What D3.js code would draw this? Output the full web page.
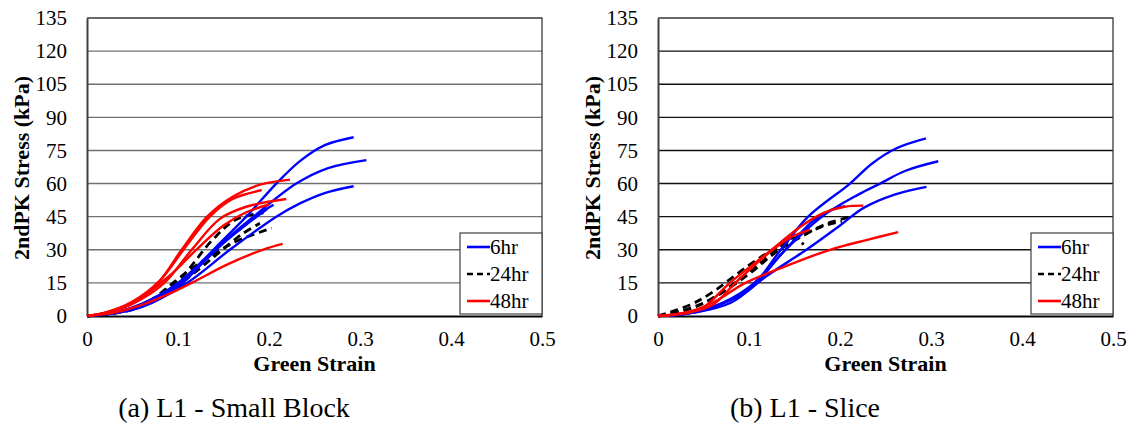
<!DOCTYPE html>
<html>
<head>
<meta charset="utf-8">
<script src="https://cdn.jsdelivr.net/npm/d3@7"></script>
<style>
  html, body { margin: 0; padding: 0; background: #fff; }
  svg { display: block; }
</style>
</head>
<body>
<svg id="chart" width="1133" height="433"></svg>
<script>
// Axis ticks
const strainTicks = [0, 0.1, 0.2, 0.3, 0.4, 0.5];
const stressTicks = [0, 15, 30, 45, 60, 75, 90, 105, 120, 135];

// Legend
const groups = ["6hr", "24hr", "48hr"];
const groupColors = ["#0000ff", "#000000", "#ff0000"];

// (a) L1 - Small Block : [Green strain, 2nd PK stress (kPa)]
const block6hr = [
  [[0,0],[0.03,1.5],[0.06,5],[0.1,13],[0.139,30],[0.175,45],[0.208,60],[0.235,70.5],[0.262,77.5],[0.293,81]],
  [[0,0],[0.03,1.5],[0.06,5],[0.1,14],[0.14,30],[0.183,45],[0.23,60],[0.265,67],[0.307,70.6]],
  [[0,0],[0.03,1.2],[0.06,4],[0.11,15],[0.157,30],[0.208,45],[0.234,51],[0.262,55.8],[0.293,58.8]],
  [[0,0],[0.03,1.5],[0.06,5.5],[0.1,15],[0.14,30],[0.17,40],[0.19,46.5],[0.205,50.4]],
  [[0,0],[0.03,1.5],[0.06,5],[0.1,14],[0.15,33],[0.18,43],[0.198,48.5]]
];
const block24hr = [
  [[0,0],[0.03,1.5],[0.06,5],[0.1,16],[0.139,35],[0.165,44],[0.194,46.7]],
  [[0,0],[0.03,1.2],[0.06,4.5],[0.11,20],[0.139,28],[0.165,34],[0.203,39.8]],
  [[0,0],[0.03,1.3],[0.06,4.8],[0.1,14],[0.14,27],[0.17,37],[0.19,42]]
];
const block48hr = [
  [[0,0],[0.02,1.5],[0.05,6],[0.078,15],[0.104,30],[0.132,45],[0.16,54],[0.19,59.5],[0.223,61.8]],
  [[0,0],[0.02,1.5],[0.05,6.5],[0.08,16],[0.106,30],[0.135,45],[0.16,53],[0.192,57]],
  [[0,0],[0.02,1.3],[0.05,5.5],[0.085,15],[0.115,30],[0.146,44],[0.175,49.5],[0.219,53]],
  [[0,0],[0.02,1.4],[0.05,6],[0.09,18],[0.12,30],[0.15,41],[0.175,47],[0.2,50.5]],
  [[0,0],[0.03,1.5],[0.06,5],[0.09,10],[0.115,15],[0.155,23.5],[0.193,30],[0.215,32.7]]
];

// (b) L1 - Slice
const slice6hr = [
  [[0,0],[0.03,1],[0.06,4],[0.1,12],[0.135,30],[0.165,45],[0.211,60],[0.235,69],[0.262,76],[0.2945,80.5]],
  [[0,0],[0.03,1],[0.06,4],[0.1,12],[0.14,30],[0.18,45],[0.22,55],[0.244,60],[0.272,65.8],[0.308,70.1]],
  [[0,0],[0.04,1.5],[0.08,6],[0.119,18],[0.163,30],[0.2,41],[0.226,49],[0.26,55],[0.295,58.5]],
  [[0,0],[0.03,1],[0.06,4],[0.1,13],[0.14,30],[0.17,43],[0.19,48],[0.2055,49.7]]
];
const slice24hr = [
  [[0,0],[0.035,5],[0.057,10],[0.1,23],[0.13,31],[0.167,38.3],[0.19,42.5],[0.2146,45.1]],
  [[0,0],[0.035,3.5],[0.06,8],[0.1,19],[0.13,29],[0.16,36.5],[0.18,40.5],[0.202,42.9]],
  [[0,0],[0.03,2.5],[0.06,8],[0.1,20],[0.13,30],[0.145,35],[0.152,35.2],[0.16,32.3]]
];
const slice48hr = [
  [[0,0],[0.03,1.5],[0.05,4],[0.079,15],[0.125,30],[0.155,40],[0.182,46.7],[0.205,49.5],[0.2256,50]],
  [[0,0],[0.03,1.5],[0.06,6],[0.096,15],[0.14,22.5],[0.189,30],[0.23,34.5],[0.264,38]],
  [[0,0],[0.03,1.2],[0.06,5],[0.085,15],[0.12,28],[0.145,35.5],[0.167,39]]
];

const FONT = "'Liberation Serif'";
const svg = d3.select("#chart");
const plotW = 455, plotH = 298;

function drawPanel(left, top, sets, caption, gridColor) {
  const g = svg.append("g").attr("transform", `translate(${left},${top})`);
  const x = d3.scaleLinear().domain([0, 0.5]).range([0, plotW]);
  const y = d3.scaleLinear().domain([0, 135]).range([plotH, 0]);

  // horizontal gridlines
  g.append("g").selectAll("line")
    .data(stressTicks.filter(d => d > 0 && d < 135))
    .join("line")
    .attr("x1", 0).attr("x2", plotW)
    .attr("y1", d => y(d)).attr("y2", d => y(d))
    .attr("stroke", gridColor).attr("stroke-width", 1.4);

  // plot frame (top and right)
  g.append("path")
    .attr("d", `M0,0H${plotW}V${plotH}`)
    .attr("fill", "none").attr("stroke", "#3a3a3a").attr("stroke-width", 1.3);

  // y axis
  const ya = g.append("g")
    .call(d3.axisLeft(y).tickValues(stressTicks).tickSize(0).tickPadding(20));
  ya.select(".domain").attr("stroke", "#404040").attr("stroke-width", 2);
  ya.selectAll("text").style("font-family", FONT).style("font-size", "21px").attr("fill", "#000");

  // x axis
  const xa = g.append("g").attr("transform", `translate(0,${plotH})`)
    .call(d3.axisBottom(x).tickValues(strainTicks).tickSize(0).tickPadding(15)
      .tickFormat(d => d === 0 ? "0" : d3.format(".1f")(d)));
  xa.select(".domain").attr("stroke", "#000").attr("stroke-width", 2);
  xa.selectAll("text").style("font-family", FONT).style("font-size", "21px").attr("fill", "#000");

  // curves
  const line = d3.line().x(d => x(d[0])).y(d => y(d[1])).curve(d3.curveCatmullRom.alpha(0.5));
  const order = [1, 0, 2];
  order.forEach(i => {
    g.append("g").selectAll("path")
      .data(sets[i])
      .join("path")
      .attr("d", line)
      .attr("fill", "none")
      .attr("stroke", groupColors[i])
      .attr("stroke-width", i === 1 ? 2.8 : 2.4)
      .attr("stroke-dasharray", i === 1 ? "8,5" : null)
      .attr("stroke-linecap", "butt");
  });

  // axis titles
  g.append("text")
    .attr("x", plotW / 2).attr("y", plotH + 55)
    .attr("text-anchor", "middle")
    .style("font-family", FONT).style("font-size", "22px").style("font-weight", "bold")
    .text("Green Strain");
  g.append("text")
    .attr("transform", `translate(${21.5 - 87},${150}) rotate(-90)`)
    .attr("text-anchor", "middle").attr("dy", "0.35em")
    .style("font-family", FONT).style("font-size", "22px").style("font-weight", "bold")
    .text("2ndPK Stress (kPa)");

  // legend
  const lg = g.append("g").attr("transform", `translate(${plotW - 82},${215})`);
  lg.append("rect").attr("width", 82).attr("height", 81)
    .attr("fill", "#fff").attr("stroke", "#404040").attr("stroke-width", 1.2);
  groups.forEach((name, i) => {
    const yy = 14 + i * 27;
    lg.append("line")
      .attr("x1", 7).attr("x2", 30).attr("y1", yy).attr("y2", yy)
      .attr("stroke", groupColors[i]).attr("stroke-width", 2.6)
      .attr("stroke-dasharray", i === 1 ? "6,4" : null);
    lg.append("text").attr("x", 30).attr("y", yy).attr("dy", "0.35em")
      .style("font-family", FONT).style("font-size", "21px").text(name);
  });

  // caption
  svg.append("text")
    .attr("x", left + 147).attr("y", 417)
    .attr("text-anchor", "middle")
    .style("font-family", FONT).style("font-size", "28px")
    .text(caption);
}

drawPanel(87, 18, [block6hr, block24hr, block48hr], "(a) L1 - Small Block", "#707070");
drawPanel(658, 18, [slice6hr, slice24hr, slice48hr], "(b) L1 - Slice", "#111111");
</script>
</body>
</html>
